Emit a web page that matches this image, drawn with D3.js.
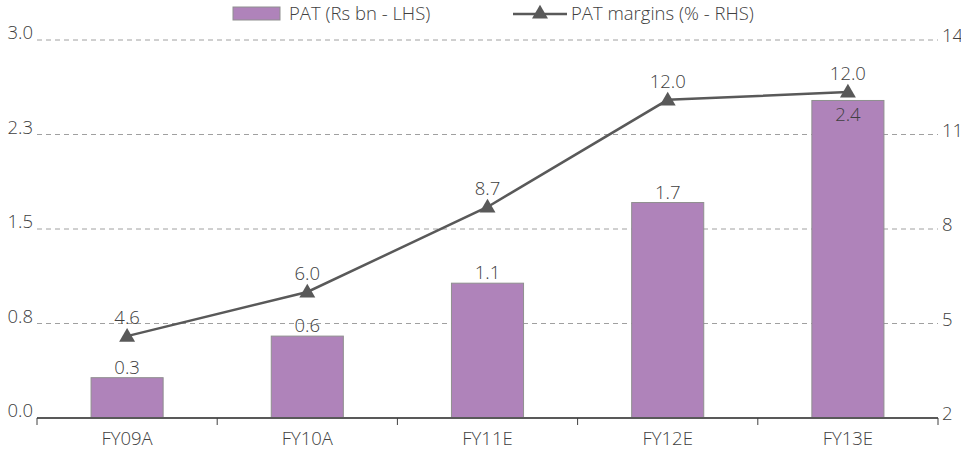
<!DOCTYPE html>
<html>
<head>
<meta charset="utf-8">
<script src="https://cdn.jsdelivr.net/npm/d3@7"></script>
<style>
  body { margin: 0; background: #fff; }
  text { font-family: "Open Sans", "Noto Sans", sans-serif; font-weight: 300; fill: #404040; }
</style>
</head>
<body>
<div id="chart"></div>
<script>
const categories = ["FY09A", "FY10A", "FY11E", "FY12E", "FY13E"];
const patValues = [0.32, 0.65, 1.07, 1.71, 2.52];
const patLabels = ["0.3", "0.6", "1.1", "1.7", "2.4"];
const marginValues = [4.6, 6.0, 8.7, 12.1, 12.35];
const marginLabels = ["4.6", "6.0", "8.7", "12.0", "12.0"];
const leftTicks = [0, 0.75, 1.5, 2.25, 3.0];
const leftTickLabels = ["0.0", "0.8", "1.5", "2.3", "3.0"];
const rightTicks = [2, 5, 8, 11, 14];

const drawChart = () => {
  const width = 961;
  const height = 454;
  const margin = { top: 40, right: 23, bottom: 36, left: 37 };
  const fontSize = 18.5;

  const svg = d3.select("#chart")
    .append("svg")
    .attr("width", width)
    .attr("height", height);

  const x = d3.scaleBand()
    .domain(categories)
    .range([margin.left, width - margin.right])
    .paddingInner(0.6)
    .paddingOuter(0.3);

  const yL = d3.scaleLinear().domain([0, 3]).range([height - margin.bottom, margin.top]);
  const yR = d3.scaleLinear().domain([2, 14]).range([height - margin.bottom, margin.top]);

  // dashed gridlines
  svg.append("g")
    .selectAll("line")
    .data(leftTicks.slice(1))
    .join("line")
    .attr("x1", margin.left)
    .attr("x2", width - margin.right)
    .attr("y1", d => yL(d))
    .attr("y2", d => yL(d))
    .attr("stroke", "#a0a0a0")
    .attr("stroke-width", 1)
    .attr("stroke-dasharray", "5,4");

  // left tick labels
  svg.append("g")
    .selectAll("text")
    .data(leftTicks)
    .join("text")
    .attr("x", margin.left - 4)
    .attr("y", d => yL(d) - 1)
    .attr("text-anchor", "end")
    .style("font-size", fontSize + "px")
    .text((d, i) => leftTickLabels[i]);

  // right tick labels
  svg.append("g")
    .selectAll("text")
    .data(rightTicks)
    .join("text")
    .attr("x", width - margin.right + 4)
    .attr("y", d => yR(d) + 2)
    .style("font-size", fontSize + "px")
    .text(d => d);

  // bars
  svg.append("g")
    .selectAll("rect")
    .data(patValues)
    .join("rect")
    .attr("x", (d, i) => x(categories[i]))
    .attr("width", x.bandwidth())
    .attr("y", d => yL(d))
    .attr("height", d => yL(0) - yL(d))
    .attr("fill", "#af83ba")
    .attr("stroke", "#8f8f8f")
    .attr("stroke-width", 1);

  // x axis
  const xAxis = svg.append("g");
  xAxis.append("line")
    .attr("x1", margin.left)
    .attr("x2", width - margin.right)
    .attr("y1", yL(0))
    .attr("y2", yL(0))
    .attr("stroke", "#595959")
    .attr("stroke-width", 2);

  const step = x.step();
  const tickX = d3.range(categories.length + 1).map(i => margin.left + i * step);
  xAxis.selectAll(".tick")
    .data(tickX)
    .join("line")
    .attr("class", "tick")
    .attr("x1", d => d)
    .attr("x2", d => d)
    .attr("y1", yL(0))
    .attr("y2", yL(0) + 7)
    .attr("stroke", "#404040")
    .attr("stroke-width", 1);

  xAxis.selectAll("text")
    .data(categories)
    .join("text")
    .attr("x", d => x(d) + x.bandwidth() / 2)
    .attr("y", yL(0) + 27)
    .attr("text-anchor", "middle")
    .style("font-size", fontSize + "px")
    .text(d => d);

  // margin line
  const cx = i => x(categories[i]) + x.bandwidth() / 2;
  const line = d3.line()
    .x((d, i) => cx(i))
    .y(d => yR(d));

  svg.append("path")
    .datum(marginValues)
    .attr("d", line)
    .attr("fill", "none")
    .attr("stroke", "#595959")
    .attr("stroke-width", 2.5);

  const tri = d3.symbol().type(d3.symbolTriangle).size(110);
  svg.append("g")
    .selectAll("path")
    .data(marginValues)
    .join("path")
    .attr("d", tri)
    .attr("transform", (d, i) => `translate(${cx(i)},${yR(d) + 1})`)
    .attr("fill", "#595959");

  // bar labels: inside bar when it would run into the line marker
  svg.append("g")
    .selectAll("text")
    .data(patValues)
    .join("text")
    .attr("x", (d, i) => cx(i))
    .attr("y", (d, i) => {
      const top = yL(d);
      const clash = Math.abs(top - yR(marginValues[i])) < 30;
      return clash ? top + 21 : top - 4;
    })
    .attr("text-anchor", "middle")
    .style("font-size", fontSize + "px")
    .text((d, i) => patLabels[i]);

  // line labels
  svg.append("g")
    .selectAll("text")
    .data(marginValues)
    .join("text")
    .attr("x", (d, i) => cx(i))
    .attr("y", d => yR(d) - 12)
    .attr("text-anchor", "middle")
    .style("font-size", fontSize + "px")
    .text((d, i) => marginLabels[i]);

  // legend
  const legend = svg.append("g");
  legend.append("rect")
    .attr("x", 233).attr("y", 7)
    .attr("width", 47).attr("height", 13)
    .attr("fill", "#af83ba")
    .attr("stroke", "#8f8f8f");
  legend.append("text")
    .attr("x", 289).attr("y", 20)
    .style("font-size", fontSize + "px")
    .text("PAT (Rs bn - LHS)");

  legend.append("line")
    .attr("x1", 513).attr("x2", 567)
    .attr("y1", 14).attr("y2", 14)
    .attr("stroke", "#595959")
    .attr("stroke-width", 2.5);
  legend.append("path")
    .attr("d", tri)
    .attr("transform", "translate(540,14)")
    .attr("fill", "#595959");
  legend.append("text")
    .attr("x", 571).attr("y", 20)
    .style("font-size", fontSize + "px")
    .text("PAT margins (% - RHS)");
};

drawChart();
</script>
</body>
</html>
